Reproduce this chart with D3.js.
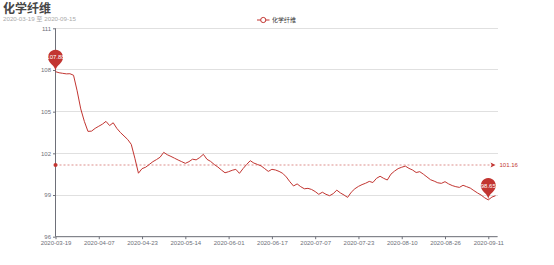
<!DOCTYPE html>
<html><head><meta charset="utf-8">
<script src="https://cdn.jsdelivr.net/npm/d3@7/dist/d3.min.js"></script>
<style>
html,body{margin:0;padding:0;background:#fff;}
svg{display:block;font-family:"Liberation Sans",Arial,"Noto Sans CJK SC",sans-serif;}
</style></head>
<body><svg id="chart" width="554" height="265"></svg>
<script>
const titleText = "化学纤维";
const subtitleText = "2020-03-19 至 2020-09-15";
const seriesName = "化学纤维";
const dates = [
"2020-03-19","2020-03-20","2020-03-23","2020-03-24","2020-03-25","2020-03-26","2020-03-27","2020-03-30","2020-03-31",
"2020-04-01","2020-04-02","2020-04-03","2020-04-07","2020-04-08","2020-04-09","2020-04-10","2020-04-13","2020-04-14","2020-04-15","2020-04-16","2020-04-17","2020-04-20","2020-04-21","2020-04-22","2020-04-23","2020-04-24","2020-04-27","2020-04-28","2020-04-29","2020-04-30",
"2020-05-06","2020-05-07","2020-05-08","2020-05-11","2020-05-12","2020-05-13","2020-05-14","2020-05-15","2020-05-18","2020-05-19","2020-05-20","2020-05-21","2020-05-22","2020-05-25","2020-05-26","2020-05-27","2020-05-28","2020-05-29",
"2020-06-01","2020-06-02","2020-06-03","2020-06-04","2020-06-05","2020-06-08","2020-06-09","2020-06-10","2020-06-11","2020-06-12","2020-06-15","2020-06-16","2020-06-17","2020-06-18","2020-06-19","2020-06-22","2020-06-23","2020-06-24","2020-06-29","2020-06-30",
"2020-07-01","2020-07-02","2020-07-03","2020-07-06","2020-07-07","2020-07-08","2020-07-09","2020-07-10","2020-07-13","2020-07-14","2020-07-15","2020-07-16","2020-07-17","2020-07-20","2020-07-21","2020-07-22","2020-07-23","2020-07-24","2020-07-27","2020-07-28","2020-07-29","2020-07-30","2020-07-31",
"2020-08-03","2020-08-04","2020-08-05","2020-08-06","2020-08-07","2020-08-10","2020-08-11","2020-08-12","2020-08-13","2020-08-14","2020-08-17","2020-08-18","2020-08-19","2020-08-20","2020-08-21","2020-08-24","2020-08-25","2020-08-26","2020-08-27","2020-08-28","2020-08-31",
"2020-09-01","2020-09-02","2020-09-03","2020-09-04","2020-09-07","2020-09-08","2020-09-09","2020-09-10","2020-09-11","2020-09-14","2020-09-15"
];
const values = [
107.88,107.80,107.76,107.72,107.73,107.62,106.5,105.2,104.3,103.58,
103.6,103.8,103.95,104.1,104.3,104.0,104.2,103.8,103.5,103.25,
103.0,102.65,101.65,100.57,100.9,101.0,101.2,101.4,101.55,101.72,
102.07,101.9,101.78,101.65,101.52,101.4,101.28,101.4,101.58,101.53,
101.7,101.93,101.57,101.42,101.2,101.02,100.8,100.6,100.68,100.78,
100.85,100.56,100.9,101.2,101.47,101.3,101.2,101.1,100.9,100.7,
100.85,100.8,100.7,100.56,100.3,99.95,99.65,99.8,99.6,99.45,
99.48,99.4,99.25,99.05,99.2,99.05,98.95,99.1,99.35,99.15,
99.0,98.83,99.2,99.45,99.62,99.75,99.85,99.98,99.9,100.2,
100.35,100.2,100.08,100.5,100.72,100.9,101.0,101.08,100.92,100.8,
100.62,100.68,100.5,100.3,100.1,100.0,99.88,99.84,99.96,99.8,
99.68,99.6,99.55,99.7,99.6,99.5,99.32,99.15,99.0,98.8,
98.65,98.85,98.95
];
const yTicks = [96, 99, 102, 105, 108, 111];
const xLabelInterval = 12;
const averageValue = 101.16;

(function () {
const color = "#c23531";
const svg = d3.select("#chart");
const gLeft = 55.5, gRight = 495.5, gTop = 28.3, gBottom = 236.7;

const x = d3.scalePoint().domain(dates).range([gLeft, gRight]);
const y = d3.scaleLinear().domain([96, 111]).range([gBottom, gTop]);

// title
svg.append("text").attr("x", 3).attr("y", 12.5).attr("font-size", 12).attr("font-weight", "bold")
  .attr("fill", "#464646").attr("font-family", "'Noto Sans CJK SC',sans-serif").text(titleText);
svg.append("text").attr("x", 3).attr("y", 21).attr("font-size", 6.2).attr("fill", "#aaa")
  .attr("font-family", "'Liberation Sans','Noto Sans CJK SC',sans-serif").text(subtitleText);

// legend
const lg = svg.append("g").attr("transform", "translate(257,20)");
lg.append("line").attr("x1", 0).attr("x2", 12.5).attr("y1", 0).attr("y2", 0).attr("stroke", color).attr("stroke-width", 1);
lg.append("circle").attr("cx", 6.25).attr("cy", 0).attr("r", 2.6).attr("fill", "#fff").attr("stroke", color).attr("stroke-width", 1);
lg.append("text").attr("x", 15).attr("y", 2).attr("font-size", 6).attr("fill", "#333")
  .attr("font-family", "'Noto Sans CJK SC',sans-serif").text(seriesName);

// grid lines
svg.append("g").selectAll("line").data(yTicks).join("line")
  .attr("x1", gLeft).attr("x2", gRight + 2).attr("y1", d => y(d)).attr("y2", d => y(d))
  .attr("stroke", "#e0e0e0").attr("stroke-width", 1).attr("shape-rendering", "crispEdges");

// y axis
const yAxis = svg.append("g").attr("transform", `translate(${gLeft},0)`)
  .call(d3.axisLeft(y).tickValues(yTicks).tickSize(2.5).tickPadding(2).tickFormat(d3.format("d")));
yAxis.select(".domain").attr("stroke", "#6e7079").attr("d", `M0,${gBottom}V${gTop}`);
yAxis.selectAll(".tick line").attr("stroke", "#6e7079");
yAxis.selectAll("text").attr("font-size", 6).attr("fill", "#6e7079").attr("font-family", "'Liberation Sans',Arial,sans-serif");

// x axis
const xAxis = svg.append("g").attr("transform", `translate(0,${gBottom})`)
  .call(d3.axisBottom(x).tickValues(dates.filter((d, i) => i % xLabelInterval === 0)).tickSize(2.5).tickPadding(2));
xAxis.select(".domain").attr("stroke", "#6e7079").attr("d", `M${gLeft},0H${gRight + 2}`);
xAxis.selectAll(".tick line").attr("stroke", "#6e7079");
xAxis.selectAll("text").attr("font-size", 6).attr("fill", "#6e7079").attr("font-family", "'Liberation Sans',Arial,sans-serif");

// mark line (average)
const ya = y(averageValue);
svg.append("line").attr("x1", gLeft).attr("x2", gRight - 3).attr("y1", ya).attr("y2", ya)
  .attr("stroke", color).attr("stroke-opacity", 0.55).attr("stroke-width", 1).attr("stroke-dasharray", "2,2");
svg.append("circle").attr("cx", gLeft).attr("cy", ya).attr("r", 2).attr("fill", color);
svg.append("path").attr("d", `M${gRight - 5},${ya - 2.5}L${gRight},${ya}L${gRight - 5},${ya + 2.5}L${gRight - 3.8},${ya}Z`).attr("fill", color);
svg.append("text").attr("x", gRight + 4).attr("y", ya + 2.2).attr("font-size", 6).attr("fill", color)
  .attr("font-family", "'Liberation Sans',Arial,sans-serif").text(averageValue.toFixed(2));

// series line
const line = d3.line().x((d, i) => x(dates[i])).y(d => y(d));
svg.append("path").datum(values).attr("d", line).attr("fill", "none").attr("stroke", color)
  .attr("stroke-width", 1).attr("stroke-linejoin", "round");

// mark points (pins)
function pinPath(px, py, W, H) {
  const w = W / 5 * 3, h = Math.max(w, H), r = w / 2;
  const dy = r * r / (h - r);
  const cy = py - h + r + dy;
  const angle = Math.asin(dy / r);
  const dx = Math.cos(angle) * r;
  const tanX = Math.sin(angle), tanY = Math.cos(angle);
  const cpLen = r * 0.6, cpLen2 = r * 0.7;
  const p = d3.path();
  p.moveTo(px - dx, cy + dy);
  p.arc(px, cy, r, Math.PI - angle, Math.PI * 2 + angle);
  p.bezierCurveTo(px + dx - tanX * cpLen, cy + dy + tanY * cpLen, px, py - cpLen2, px, py);
  p.bezierCurveTo(px, py - cpLen2, px - dx + tanX * cpLen, cy + dy + tanY * cpLen, px - dx, cy + dy);
  p.closePath();
  return { d: p.toString(), cy };
}
const maxV = d3.max(values), minV = d3.min(values);
const marks = [values.indexOf(maxV), values.indexOf(minV)];
marks.forEach(i => {
  const px = x(dates[i]), py = y(values[i]);
  const pp = pinPath(px, py, 25, 25);
  svg.append("path").attr("d", pp.d).attr("fill", color);
  svg.append("text").attr("x", px).attr("y", pp.cy + 2.1).attr("text-anchor", "middle")
    .attr("font-size", 6).attr("fill", "#fff").attr("font-family", "'Liberation Sans',Arial,sans-serif")
    .text(values[i].toFixed(2));
});
})();
</script></body></html>
